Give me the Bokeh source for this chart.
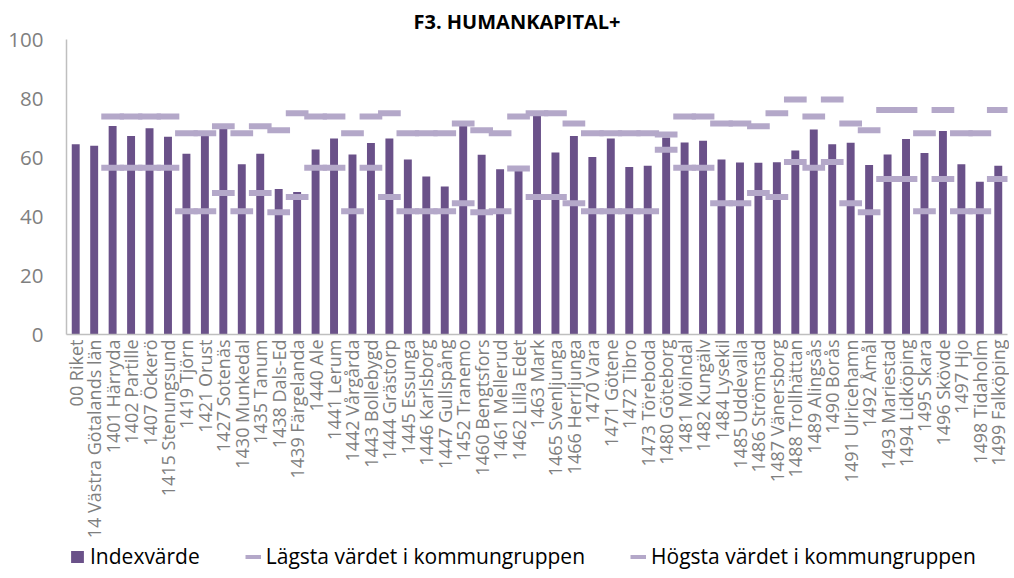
import math
import numpy as np
from bokeh.plotting import figure
from bokeh.layouts import column
from bokeh.models import ColumnDataSource, FactorRange, Range1d, Legend, LegendItem, FixedTicker
from bokeh.transform import dodge
from bokeh.embed import file_html
from bokeh.resources import INLINE

categories = [
    "00 Riket", "14 Västra Götalands län", "1401 Härryda", "1402 Partille", "1407 Öckerö",
    "1415 Stenungsund", "1419 Tjörn", "1421 Orust", "1427 Sotenäs", "1430 Munkedal",
    "1435 Tanum", "1438 Dals-Ed", "1439 Färgelanda", "1440 Ale", "1441 Lerum",
    "1442 Vårgårda", "1443 Bollebygd", "1444 Grästorp", "1445 Essunga", "1446 Karlsborg",
    "1447 Gullspång", "1452 Tranemo", "1460 Bengtsfors", "1461 Mellerud", "1462 Lilla Edet",
    "1463 Mark", "1465 Svenljunga", "1466 Herrljunga", "1470 Vara", "1471 Götene",
    "1472 Tibro", "1473 Töreboda", "1480 Göteborg", "1481 Mölndal", "1482 Kungälv",
    "1484 Lysekil", "1485 Uddevalla", "1486 Strömstad", "1487 Vänersborg", "1488 Trollhättan",
    "1489 Alingsås", "1490 Borås", "1491 Ulricehamn", "1492 Åmål", "1493 Mariestad",
    "1494 Lidköping", "1495 Skara", "1496 Skövde", "1497 Hjo", "1498 Tidaholm",
    "1499 Falköping",
]

index_values = [
    64.5, 64.0, 70.7, 67.3, 69.9, 67.0, 61.3, 67.3, 69.7, 57.7,
    61.3, 49.3, 48.3, 62.7, 66.4, 61.0, 64.9, 66.4, 59.3, 53.6,
    50.2, 70.7, 60.9, 56.0, 55.8, 74.4, 61.7, 67.3, 60.2, 66.4,
    56.8, 57.2, 66.8, 65.1, 65.7, 59.3, 58.3, 58.2, 58.4, 62.4,
    69.5, 64.5, 65.0, 57.5, 61.0, 66.3, 61.5, 69.0, 57.7, 51.8,
    57.2,
]

lowest = [
    None, None, 56.5, 56.5, 56.5, 56.5, 41.8, 41.8, 48.0, 41.8,
    48.0, 41.4, 46.6, 56.5, 56.5, 41.8, 56.5, 46.6, 41.8, 41.8,
    41.8, 44.5, 41.4, 41.8, 56.3, 46.6, 46.6, 44.5, 41.8, 41.8,
    41.8, 41.8, 62.6, 56.5, 56.5, 44.5, 44.5, 48.0, 46.6, 58.5,
    56.5, 58.5, 44.5, 41.4, 52.7, 52.7, 41.8, 52.7, 41.8, 41.8,
    52.7,
]

highest = [
    None, None, 73.9, 73.9, 73.9, 73.9, 68.2, 68.2, 70.6, 68.2,
    70.6, 69.2, 75.0, 73.9, 73.9, 68.2, 73.9, 75.0, 68.2, 68.2,
    68.2, 71.5, 69.2, 68.2, 73.9, 75.0, 75.0, 71.5, 68.2, 68.2,
    68.2, 68.2, 67.8, 73.9, 73.9, 71.5, 71.5, 70.6, 75.0, 79.7,
    73.9, 79.7, 71.5, 69.2, 76.1, 76.1, 68.2, 76.1, 68.2, 68.2,
    76.1,
]

y_ticks = [0, 20, 40, 60, 80, 100]
legend_labels = ["Indexvärde", "Lägsta värdet i kommungruppen", "Högsta värdet i kommungruppen"]

PURPLE = "#6A5189"
LAVENDER = "#B4A8C9"
GRAY = "#7F7F7F"
FONT = "Open Sans"

src = ColumnDataSource(dict(
    cat=categories,
    idx=np.array(index_values, dtype=float),
    low=np.array([np.nan if v is None else v for v in lowest], dtype=float),
    high=np.array([np.nan if v is None else v for v in highest], dtype=float),
))

p = figure(
    x_range=FactorRange(factors=categories, range_padding=0),
    y_range=Range1d(0, 100),
    frame_width=941, frame_height=295,
    output_backend="svg", toolbar_location=None,
    title="F3. HUMANKAPITAL+",
    min_border_left=66, min_border_right=2, min_border_top=30, min_border_bottom=200,
)
p.outline_line_color = None
p.xgrid.grid_line_color = None
p.ygrid.grid_line_color = None

bars = p.vbar(x="cat", top="idx", width=0.43, source=src,
              fill_color=PURPLE, line_color=None)
low_r = p.segment(x0=dodge("cat", -0.615, range=p.x_range), y0="low",
                  x1=dodge("cat", 0.615, range=p.x_range), y1="low",
                  source=src, line_color=LAVENDER, line_width=6)
high_r = p.segment(x0=dodge("cat", -0.615, range=p.x_range), y0="high",
                   x1=dodge("cat", 0.615, range=p.x_range), y1="high",
                   source=src, line_color=LAVENDER, line_width=6)

# title
p.title.text_font = FONT
p.title.text_font_style = "bold"
p.title.text_font_size = "20px"
p.title.text_color = "#000000"
p.title.align = "left"
p.title.offset = 347

# x axis
xa = p.xaxis[0]
xa.major_label_orientation = math.pi / 2
xa.major_label_text_font = FONT
xa.major_label_text_font_size = "18px"
xa.major_label_text_color = GRAY
xa.major_tick_line_color = None
xa.major_tick_out = 0
xa.major_tick_in = 0
xa.minor_tick_line_color = None
xa.axis_line_color = "#BFBFBF"
xa.axis_line_width = 1.5
xa.major_label_standoff = 5

# y axis
ya = p.yaxis[0]
ya.ticker = FixedTicker(ticks=y_ticks)
ya.major_label_text_font = FONT
ya.major_label_text_font_size = "20.5px"
ya.major_label_text_color = GRAY
ya.major_tick_line_color = None
ya.major_tick_out = 0
ya.major_tick_in = 0
ya.minor_tick_line_color = None
ya.axis_line_color = "#BFBFBF"
ya.axis_line_width = 1.5
ya.major_label_standoff = 23

# legend strip below the chart (legend keys use the same styles)
lf = figure(
    width=1009, height=29,
    x_range=Range1d(0, 1), y_range=Range1d(0, 1),
    output_backend="svg", toolbar_location=None,
    x_axis_type=None, y_axis_type=None,
    min_border=0, min_border_left=0, min_border_right=0,
    min_border_top=0, min_border_bottom=0,
)
lf.outline_line_color = None
lf.xgrid.grid_line_color = None
lf.ygrid.grid_line_color = None
key_src = ColumnDataSource(dict(x=[0.5], top=[0.0], x0=[0.5], y0=[0.0], x1=[0.5], y1=[0.0]))
k_bar = lf.vbar(x="x", top="top", width=0.5, source=key_src, fill_color=PURPLE, line_color=None)
k_low = lf.segment(x0="x0", y0="y0", x1="x1", y1="y1", source=key_src, line_color=LAVENDER, line_width=4)
k_high = lf.segment(x0="x0", y0="y0", x1="x1", y1="y1", source=key_src, line_color=LAVENDER, line_width=4)

legend = Legend(
    items=[
        LegendItem(label=legend_labels[0], renderers=[k_bar]),
        LegendItem(label=legend_labels[1], renderers=[k_low]),
        LegendItem(label=legend_labels[2], renderers=[k_high]),
    ],
    orientation="horizontal",
    location=(3, 0),
    margin=0, padding=0,
    spacing=45,
    glyph_width=16, glyph_height=15,
    label_standoff=5,
    label_text_font=FONT,
    label_text_font_size="21px",
    label_text_color="#000000",
    border_line_color=None,
    background_fill_alpha=0,
)
lf.add_layout(legend, "center")

open("out.html", "w").write(file_html(column(p, lf), INLINE))
